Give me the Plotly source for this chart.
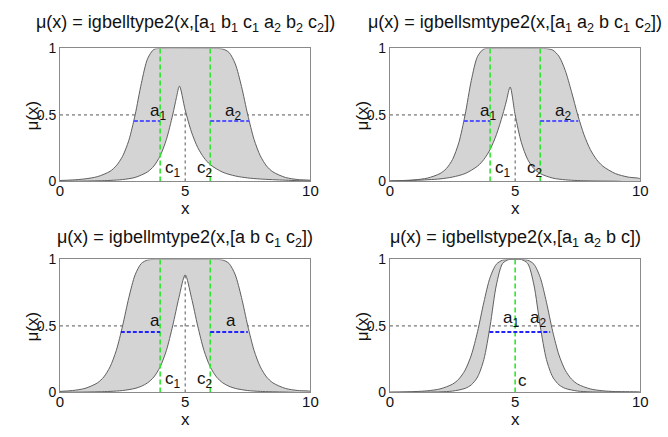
import plotly.graph_objects as go

# ---------------- data ----------------
X_TICKS = [0, 5, 10]
X_TICK_TEXT = ["0", "5", "10"]
Y_TICKS = [0, 0.5, 1]
Y_TICK_TEXT = ["0", "0.5", "1"]

TITLES = [
    "μ(x) = igbelltype2(x,[a<sub>1</sub> b<sub>1</sub> c<sub>1</sub> a<sub>2</sub> b<sub>2</sub> c<sub>2</sub>])",
    "μ(x) = igbellsmtype2(x,[a<sub>1</sub> a<sub>2</sub> b c<sub>1</sub> c<sub>2</sub>])",
    "μ(x) = igbellmtype2(x,[a b c<sub>1</sub> c<sub>2</sub>])",
    "μ(x) = igbellstype2(x,[a<sub>1</sub> a<sub>2</sub> b c])",
]

# panel 1 : igbelltype2
P1_UPPER_X = [0, 0.5, 1, 1.5, 2, 2.25, 2.5, 2.75, 3, 3.25, 3.5, 3.75, 4,
              6, 6.25, 6.5, 6.75, 7, 7.25, 7.5, 7.75, 8, 8.25, 8.5, 9, 9.5, 10]
P1_UPPER_Y = [0.0068, 0.011, 0.019, 0.036, 0.076, 0.118, 0.189, 0.309, 0.5, 0.738, 0.924, 0.993, 1,
              1, 1.0, 0.996, 0.970, 0.884, 0.713, 0.5, 0.316, 0.192, 0.116, 0.072, 0.030, 0.014, 0.0074]
P1_LOWER_X = [0, 1, 2, 2.5, 3, 3.5, 3.75, 4, 4.25, 4.5, 4.65, 4.77, 5, 5.25, 5.5, 5.75, 6,
              6.5, 7, 7.5, 8, 9, 10]
P1_LOWER_Y = [0.001, 0.0024, 0.0074, 0.014, 0.030, 0.072, 0.116, 0.192, 0.316, 0.5, 0.63, 0.717,
              0.537, 0.372, 0.255, 0.178, 0.126, 0.069, 0.041, 0.026, 0.018, 0.0092, 0.0053]
P1_GREEN_X = [4, 6]
P1_BLUE = [[2.95, 4], [6, 7.55]]
P1_LABELS = [("a<sub>1</sub>", 3.52, 0.52), ("a<sub>2</sub>", 6.5, 0.52),
             ("c<sub>1</sub>", 4.1, 0.09), ("c<sub>2</sub>", 5.41, 0.09)]

# panel 2 : igbellsmtype2
P2_UPPER_X = [0, 0.5, 1, 1.5, 2, 2.25, 2.5, 2.75, 3, 3.25, 3.5, 3.75, 4,
              6, 6.25, 6.5, 6.75, 7, 7.25, 7.5, 7.75, 8, 8.25, 8.5, 9, 9.5, 10]
P2_UPPER_Y = [0.0039, 0.0066, 0.012, 0.025, 0.059, 0.096, 0.165, 0.291, 0.5, 0.76, 0.941, 0.996, 1,
              1, 0.999, 0.988, 0.941, 0.835, 0.675, 0.5, 0.351, 0.24, 0.165, 0.115, 0.059, 0.033, 0.019]
P2_LOWER_X = [0, 1, 2, 2.5, 3, 3.5, 3.75, 4, 4.25, 4.5, 4.65, 4.8, 5, 5.25, 5.5, 5.75, 6,
              6.5, 7, 7.5, 8, 9, 10]
P2_LOWER_Y = [0.0039, 0.008, 0.019, 0.033, 0.059, 0.115, 0.165, 0.24, 0.351, 0.5, 0.604, 0.71,
              0.5, 0.291, 0.165, 0.096, 0.059, 0.025, 0.012, 0.0066, 0.0039, 0.0016, 0.0008]
P2_GREEN_X = [4, 6]
P2_BLUE = [[2.95, 4], [6, 7.52]]
P2_LABELS = [("a<sub>1</sub>", 3.5, 0.52), ("a<sub>2</sub>", 6.51, 0.52),
             ("c<sub>1</sub>", 4.12, 0.09), ("c<sub>2</sub>", 5.4, 0.09)]

# panel 3 : igbellmtype2
P3_UPPER_X = [0, 0.5, 1, 1.5, 1.75, 2, 2.25, 2.5, 2.75, 3, 3.25, 3.5, 3.75, 4,
              6, 6.25, 6.5, 6.75, 7, 7.25, 7.5, 7.75, 8, 8.25, 8.5, 9, 9.5, 10]
P3_UPPER_Y = [0.0074, 0.014, 0.030, 0.072, 0.116, 0.192, 0.316, 0.5, 0.713, 0.884, 0.970, 0.996, 1.0, 1,
              1, 1.0, 0.996, 0.970, 0.884, 0.713, 0.5, 0.316, 0.192, 0.116, 0.072, 0.030, 0.014, 0.0074]
P3_LOWER_X = [0, 1, 2, 2.5, 3, 3.25, 3.5, 3.75, 4, 4.25, 4.5, 4.75, 5,
              5.25, 5.5, 5.75, 6, 6.25, 6.5, 6.75, 7, 7.5, 8, 9, 10]
P3_LOWER_Y = [0.001, 0.0024, 0.0074, 0.014, 0.030, 0.046, 0.072, 0.116, 0.192, 0.316, 0.5, 0.713, 0.884,
              0.713, 0.5, 0.316, 0.192, 0.116, 0.072, 0.046, 0.030, 0.014, 0.0074, 0.0024, 0.001]
P3_GREEN_X = [4, 6]
P3_BLUE = [[2.43, 4], [6, 7.5]]
P3_LABELS = [("a", 3.52, 0.54), ("a", 6.55, 0.54),
             ("c<sub>1</sub>", 4.1, 0.09), ("c<sub>2</sub>", 5.41, 0.09)]

# panel 4 : igbellstype2
P4_UPPER_X = [0, 1, 1.5, 2, 2.5, 2.75, 3, 3.25, 3.5, 3.75, 4, 4.25, 4.5, 4.75, 5,
              5.25, 5.5, 5.75, 6, 6.25, 6.5, 6.75, 7, 7.25, 7.5, 8, 8.5, 9, 10]
P4_UPPER_Y = [0.002, 0.0062, 0.012, 0.026, 0.062, 0.10, 0.167, 0.281, 0.458, 0.678, 0.865, 0.964, 0.995, 1.0, 1.0,
              1.0, 0.995, 0.964, 0.865, 0.678, 0.458, 0.281, 0.167, 0.10, 0.062, 0.026, 0.012, 0.0062, 0.002]
P4_LOWER_X = [0, 1, 2, 2.5, 3, 3.25, 3.5, 3.75, 4, 4.25, 4.5, 4.75, 5,
              5.25, 5.5, 5.75, 6, 6.25, 6.5, 6.75, 7, 7.5, 8, 9, 10]
P4_LOWER_Y = [0.0003, 0.001, 0.004, 0.010, 0.030, 0.057, 0.116, 0.247, 0.5, 0.808, 0.970, 0.999, 1.0,
              0.999, 0.970, 0.808, 0.5, 0.247, 0.116, 0.057, 0.030, 0.010, 0.004, 0.001, 0.0003]
P4_GREEN_X = [5]
P4_BLUE = [[3.97, 6.4]]
P4_LABELS = [("a<sub>1</sub>", 4.42, 0.55), ("a<sub>2</sub>", 5.53, 0.55), ("c", 5.05, 0.09)]

BLUE_Y = 0.455

# ---------------- styling ----------------
W, H = 668, 437
FONT = "Liberation Sans, Arial, sans-serif"
FILL = "#d4d4d4"
CURVE = "#5f5f5f"
FRAME = "#8a8a8a"
GREEN = "#2ee62e"
BLUES = ["#5555ff", "#5555ff", "#2222ff", "#2222ff"]
DOT = "#555555"

# plot-area pixel boxes (left, right, top, bottom) and title offset above plot
BOXES = [(57, 312, 42, 180), (393, 648, 42, 180), (57, 312, 261, 399), (393, 648, 261, 399)]
TITLE_GAP = [26, 26, 22, 22]

panels = [
    (P1_UPPER_X, P1_UPPER_Y, P1_LOWER_X, P1_LOWER_Y, P1_GREEN_X, P1_BLUE, P1_LABELS, True),
    (P2_UPPER_X, P2_UPPER_Y, P2_LOWER_X, P2_LOWER_Y, P2_GREEN_X, P2_BLUE, P2_LABELS, True),
    (P3_UPPER_X, P3_UPPER_Y, P3_LOWER_X, P3_LOWER_Y, P3_GREEN_X, P3_BLUE, P3_LABELS, True),
    (P4_UPPER_X, P4_UPPER_Y, P4_LOWER_X, P4_LOWER_Y, P4_GREEN_X, P4_BLUE, P4_LABELS, False),
]

fig = go.Figure()
annotations = []
layout_axes = {}

for i, (ux, uy, lx, ly, gx, blue, labels, vdot) in enumerate(panels):
    n = "" if i == 0 else str(i + 1)
    xa, ya = "x" + n, "y" + n
    L, R, T, B = BOXES[i]
    common = dict(showlegend=False, hoverinfo="skip", xaxis=xa, yaxis=ya)

    # dotted 0.5 line
    fig.add_trace(go.Scatter(x=[X_TICKS[0], X_TICKS[-1]], y=[0.5, 0.5], mode="lines",
                             line=dict(color=DOT, width=1, dash="dot"), **common))
    # shaded footprint of uncertainty
    px = list(ux) + list(reversed(lx))
    py = list(uy) + list(reversed(ly))
    fig.add_trace(go.Scatter(x=px, y=py, mode="lines", fill="toself", fillcolor=FILL,
                             line=dict(color=CURVE, width=1, shape="spline", smoothing=0.8),
                             **common))
    # vertical dotted line at x=5 up to the lower curve
    if vdot:
        h = ly[lx.index(5)]
        fig.add_trace(go.Scatter(x=[5, 5], y=[0, h], mode="lines",
                                 line=dict(color=DOT, width=1, dash="dot"), **common))
    # green centre lines
    for g in gx:
        fig.add_trace(go.Scatter(x=[g, g], y=[0, 1], mode="lines",
                                 line=dict(color=GREEN, width=1.6, dash="5px,3px"), **common))
    # blue width lines
    for seg in blue:
        fig.add_trace(go.Scatter(x=seg, y=[BLUE_Y, BLUE_Y], mode="lines",
                                 line=dict(color=BLUES[i], width=2, dash="4px,2px"), **common))
    # parameter labels
    for txt, x, y in labels:
        annotations.append(dict(text=txt, x=x, y=y, xref=xa, yref=ya, showarrow=False,
                                xanchor="left", yanchor="middle",
                                font=dict(family=FONT, size=17, color="#111")))

    layout_axes["xaxis" + n] = dict(
        domain=[L / W, R / W], anchor=ya, range=[0, 10], tickvals=X_TICKS, ticktext=X_TICK_TEXT,
        showline=True, mirror=True, linecolor=FRAME, linewidth=1, showgrid=False, zeroline=False,
        ticks="", ticklabelstandoff=-4,
        tickfont=dict(family=FONT, size=15, color="#111"), fixedrange=True)
    layout_axes["yaxis" + n] = dict(
        domain=[1 - B / H, 1 - T / H], anchor=xa, range=[0, 1], tickvals=Y_TICKS, ticktext=Y_TICK_TEXT,
        showline=True, mirror=True, linecolor=FRAME, linewidth=1, showgrid=False, zeroline=False,
        ticks="", tickfont=dict(family=FONT, size=14, color="#111"), fixedrange=True)

    # title
    annotations.append(dict(text=TITLES[i], x=(L + R) / 2 / W, y=1 - (T - TITLE_GAP[i]) / H,
                            xref="paper", yref="paper", showarrow=False,
                            xanchor="center", yanchor="middle",
                            font=dict(family=FONT, size=18, color="#111")))
    # axis labels
    annotations.append(dict(text="x", x=(L + R) / 2 / W, y=1 - (B + 28) / H, xref="paper", yref="paper",
                            showarrow=False, xanchor="center", yanchor="middle",
                            font=dict(family=FONT, size=17, color="#111")))
    annotations.append(dict(text="μ(x)", x=(L - 28) / W, y=1 - (T + B) / 2 / H, xref="paper", yref="paper",
                            showarrow=False, xanchor="center", yanchor="middle", textangle=-90,
                            font=dict(family=FONT, size=17, color="#111")))

fig.update_layout(width=W, height=H, autosize=False, margin=dict(l=0, r=0, t=0, b=0),
                  paper_bgcolor="white", plot_bgcolor="white", annotations=annotations,
                  **layout_axes)

fig.write_html("out.html", config={"displayModeBar": False},
               post_script="document.body.style.margin='0px';")
